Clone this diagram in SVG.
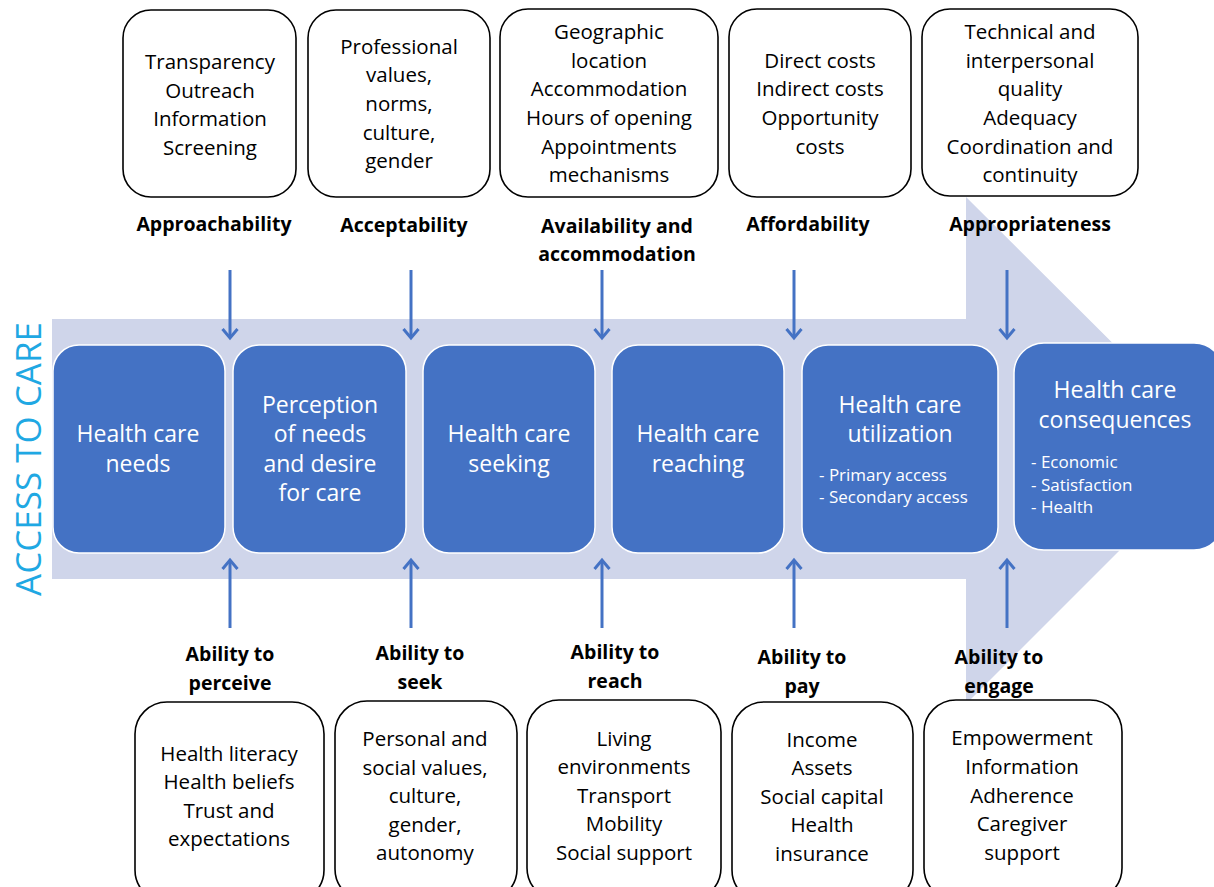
<svg xmlns="http://www.w3.org/2000/svg" width="1214" height="887" viewBox="0 0 1214 887">
  <style>
    .band { fill: #CFD5EA; }
    .stage { fill: #4472C4; stroke: #FFFFFF; stroke-width: 1.5; }
    .frame { fill: #FFFFFF; stroke: #000000; stroke-width: 1.6; }
    .item { font-family: "Open Sans", "Noto Sans", sans-serif; font-size: 20.5px; fill: #000000; text-anchor: middle; }
    .dim { font-family: "Open Sans", "Noto Sans", sans-serif; font-size: 19.5px; font-weight: bold; fill: #000000; text-anchor: middle; }
    .stage-title { font-family: "Open Sans", "Noto Sans", sans-serif; font-size: 23px; fill: #FFFFFF; text-anchor: middle; }
    .stage-sub { font-family: "Open Sans", "Noto Sans", sans-serif; font-size: 17px; fill: #FFFFFF; }
    .axis { font-family: "Open Sans", "Noto Sans", sans-serif; font-size: 35px; fill: #1FA8E3; text-anchor: middle; }
    .link { stroke: #4472C4; stroke-width: 3; fill: none; }
  </style>
  <defs>
    <marker id="head" viewBox="0 0 16 18" refX="13" refY="9" markerWidth="16" markerHeight="18" markerUnits="userSpaceOnUse" orient="auto">
      <polyline points="4,1.5 13,9 4,16.5" fill="none" stroke="#4472C4" stroke-width="3" stroke-linejoin="miter"/>
    </marker>
  </defs>

  <rect width="1214" height="887" fill="#FFFFFF"/>

  <!-- broad arrow carrying the care pathway -->
  <path class="band" d="M52,319 H966 V197 L1220,450 L966,704 V579 H52 Z"/>

  <!-- vertical axis title -->
  <text class="axis" transform="translate(41,459) rotate(-90)">ACCESS TO CARE</text>

  <!-- connectors -->
  <g id="connectors">
    <line class="link" x1="230" y1="270" x2="230" y2="338" marker-end="url(#head)"/>
    <line class="link" x1="411" y1="270" x2="411" y2="338" marker-end="url(#head)"/>
    <line class="link" x1="602" y1="270" x2="602" y2="338" marker-end="url(#head)"/>
    <line class="link" x1="794" y1="270" x2="794" y2="338" marker-end="url(#head)"/>
    <line class="link" x1="1007" y1="270" x2="1007" y2="338" marker-end="url(#head)"/>
    <line class="link" x1="230" y1="628" x2="230" y2="560" marker-end="url(#head)"/>
    <line class="link" x1="411" y1="628" x2="411" y2="560" marker-end="url(#head)"/>
    <line class="link" x1="602" y1="628" x2="602" y2="560" marker-end="url(#head)"/>
    <line class="link" x1="794" y1="628" x2="794" y2="560" marker-end="url(#head)"/>
    <line class="link" x1="1007" y1="628" x2="1007" y2="560" marker-end="url(#head)"/>
  </g>

  <!-- pathway stages -->
  <g id="stage-needs">
    <rect class="stage" x="53" y="345" width="172" height="208" rx="26"/>
    <text class="stage-title" x="138" y="442">Health care</text>
    <text class="stage-title" x="138" y="472">needs</text>
  </g>
  <g id="stage-perception">
    <rect class="stage" x="233" y="345" width="173" height="208" rx="26"/>
    <text class="stage-title" x="320" y="413">Perception</text>
    <text class="stage-title" x="320" y="442">of needs</text>
    <text class="stage-title" x="320" y="472">and desire</text>
    <text class="stage-title" x="320" y="501">for care</text>
  </g>
  <g id="stage-seeking">
    <rect class="stage" x="423" y="345" width="172" height="208" rx="26"/>
    <text class="stage-title" x="509" y="442">Health care</text>
    <text class="stage-title" x="509" y="472">seeking</text>
  </g>
  <g id="stage-reaching">
    <rect class="stage" x="612" y="345" width="172" height="208" rx="26"/>
    <text class="stage-title" x="698" y="442">Health care</text>
    <text class="stage-title" x="698" y="472">reaching</text>
  </g>
  <g id="stage-utilization">
    <rect class="stage" x="802" y="345" width="196" height="208" rx="26"/>
    <text class="stage-title" x="900" y="413">Health care</text>
    <text class="stage-title" x="900" y="442">utilization</text>
    <text class="stage-sub" x="819" y="481">- Primary access</text>
    <text class="stage-sub" x="819" y="503">- Secondary access</text>
  </g>
  <g id="stage-consequences">
    <rect class="stage" x="1014" y="343" width="210" height="207" rx="30"/>
    <text class="stage-title" x="1115" y="398">Health care</text>
    <text class="stage-title" x="1115" y="428">consequences</text>
    <text class="stage-sub" x="1031" y="468">- Economic</text>
    <text class="stage-sub" x="1031" y="491">- Satisfaction</text>
    <text class="stage-sub" x="1031" y="513">- Health</text>
  </g>

  <!-- supply-side dimensions -->
  <g id="approachability">
    <rect class="frame" x="123" y="10" width="173" height="187" rx="28"/>
    <text class="item" x="210" y="69">Transparency</text>
    <text class="item" x="210" y="98">Outreach</text>
    <text class="item" x="210" y="126">Information</text>
    <text class="item" x="210" y="155">Screening</text>
    <text class="dim" x="214" y="231">Approachability</text>
  </g>
  <g id="acceptability">
    <rect class="frame" x="308" y="10" width="182" height="187" rx="28"/>
    <text class="item" x="399" y="54">Professional</text>
    <text class="item" x="399" y="82">values,</text>
    <text class="item" x="399" y="111">norms,</text>
    <text class="item" x="399" y="140">culture,</text>
    <text class="item" x="399" y="168">gender</text>
    <text class="dim" x="404" y="232">Acceptability</text>
  </g>
  <g id="availability">
    <rect class="frame" x="500" y="9" width="218" height="188" rx="28"/>
    <text class="item" x="609" y="39">Geographic</text>
    <text class="item" x="609" y="68">location</text>
    <text class="item" x="609" y="96">Accommodation</text>
    <text class="item" x="609" y="125">Hours of opening</text>
    <text class="item" x="609" y="154">Appointments</text>
    <text class="item" x="609" y="182">mechanisms</text>
    <text class="dim" x="617" y="233">Availability and</text>
    <text class="dim" x="617" y="261">accommodation</text>
  </g>
  <g id="affordability">
    <rect class="frame" x="729" y="9" width="182" height="188" rx="28"/>
    <text class="item" x="820" y="68">Direct costs</text>
    <text class="item" x="820" y="96">Indirect costs</text>
    <text class="item" x="820" y="125">Opportunity</text>
    <text class="item" x="820" y="154">costs</text>
    <text class="dim" x="808" y="231">Affordability</text>
  </g>
  <g id="appropriateness">
    <rect class="frame" x="922" y="9" width="216" height="187" rx="28"/>
    <text class="item" x="1030" y="39">Technical and</text>
    <text class="item" x="1030" y="68">interpersonal</text>
    <text class="item" x="1030" y="96">quality</text>
    <text class="item" x="1030" y="125">Adequacy</text>
    <text class="item" x="1030" y="154">Coordination and</text>
    <text class="item" x="1030" y="182">continuity</text>
    <text class="dim" x="1030" y="231">Appropriateness</text>
  </g>

  <!-- demand-side abilities -->
  <g id="ability-perceive">
    <text class="dim" x="230" y="661">Ability to</text>
    <text class="dim" x="230" y="690">perceive</text>
    <rect class="frame" x="135" y="702" width="189" height="200" rx="32"/>
    <text class="item" x="229" y="761">Health literacy</text>
    <text class="item" x="229" y="789">Health beliefs</text>
    <text class="item" x="229" y="818">Trust and</text>
    <text class="item" x="229" y="846">expectations</text>
  </g>
  <g id="ability-seek">
    <text class="dim" x="420" y="660">Ability to</text>
    <text class="dim" x="420" y="689">seek</text>
    <rect class="frame" x="335" y="701" width="182" height="200" rx="32"/>
    <text class="item" x="425" y="746">Personal and</text>
    <text class="item" x="425" y="775">social values,</text>
    <text class="item" x="425" y="803">culture,</text>
    <text class="item" x="425" y="832">gender,</text>
    <text class="item" x="425" y="860">autonomy</text>
  </g>
  <g id="ability-reach">
    <text class="dim" x="615" y="659">Ability to</text>
    <text class="dim" x="615" y="688">reach</text>
    <rect class="frame" x="527" y="700" width="194" height="200" rx="32"/>
    <text class="item" x="624" y="746">Living</text>
    <text class="item" x="624" y="774">environments</text>
    <text class="item" x="624" y="803">Transport</text>
    <text class="item" x="624" y="831">Mobility</text>
    <text class="item" x="624" y="860">Social support</text>
  </g>
  <g id="ability-pay">
    <text class="dim" x="802" y="664">Ability to</text>
    <text class="dim" x="802" y="693">pay</text>
    <rect class="frame" x="732" y="702" width="181" height="200" rx="32"/>
    <text class="item" x="822" y="747">Income</text>
    <text class="item" x="822" y="775">Assets</text>
    <text class="item" x="822" y="804">Social capital</text>
    <text class="item" x="822" y="832">Health</text>
    <text class="item" x="822" y="861">insurance</text>
  </g>
  <g id="ability-engage">
    <text class="dim" x="999" y="664">Ability to</text>
    <text class="dim" x="999" y="693">engage</text>
    <rect class="frame" x="924" y="700" width="198" height="200" rx="32"/>
    <text class="item" x="1022" y="745">Empowerment</text>
    <text class="item" x="1022" y="774">Information</text>
    <text class="item" x="1022" y="803">Adherence</text>
    <text class="item" x="1022" y="831">Caregiver</text>
    <text class="item" x="1022" y="860">support</text>
  </g>
</svg>
